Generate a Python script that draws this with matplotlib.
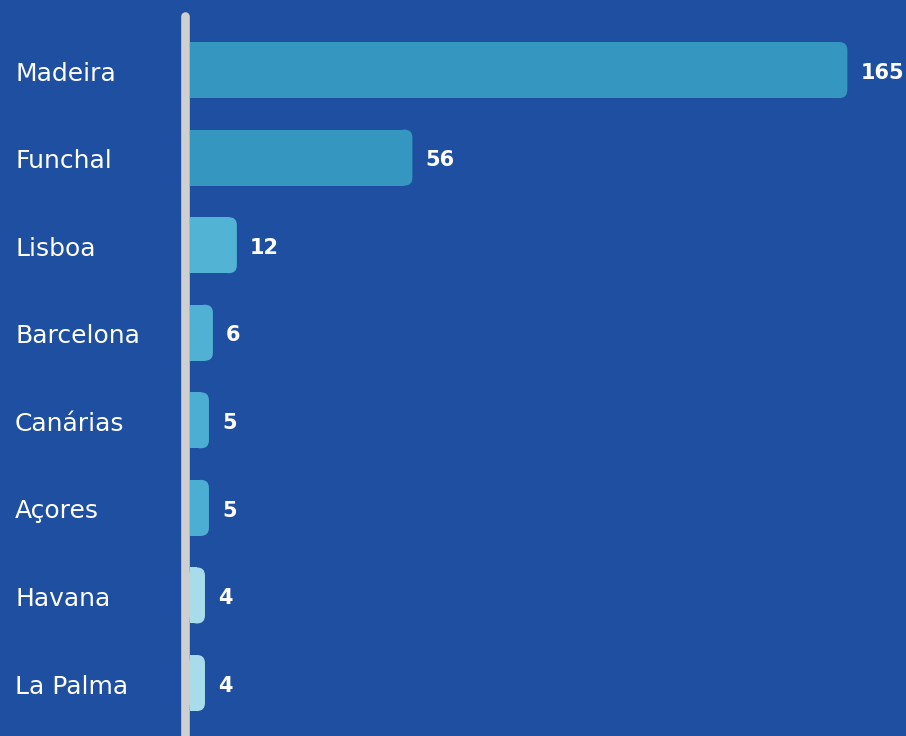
import matplotlib.pyplot as plt
from matplotlib.patches import Rectangle, FancyBboxPatch
import matplotlib.transforms as mtransforms

# data
places = ['Madeira', 'Funchal', 'Lisboa', 'Barcelona', 'Canárias', 'Açores', 'Havana', 'La Palma']
counts = [165, 56, 12, 6, 5, 5, 4, 4]
colors = ['#3596c0', '#3596c0', '#53b3d5', '#50b1d4', '#4caed2', '#4caed2', '#a9dcea', '#a9dcea']

bg = '#1f4fa0'
plt.rcParams['font.family'] = ['DejaVu Sans']

fig = plt.figure(figsize=(9.06, 7.36), dpi=100)
fig.patch.set_facecolor(bg)
ax = fig.add_axes([0, 0, 1, 1])
ax.set_facecolor(bg)

px = 3.99  # pixels per unit on x
ax.set_xlim(-189 / px, 717 / px)
ax.set_ylim(7.605, -0.8)
ax.axis('off')

h = 0.64
r = 2.0  # corner radius in x units (~8px)
aspect = (8 / 87.57) / r
for i, (v, c) in enumerate(zip(counts, colors)):
    # flat left part + rounded right end
    ax.add_patch(Rectangle((0.3, i - h / 2), v - r - 0.3, h, color=c, lw=0, zorder=2))
    ax.add_patch(FancyBboxPatch((v - 2 * r, i - h / 2), 2 * r, h,
                                boxstyle=f'round,pad=0,rounding_size={r}',
                                mutation_aspect=aspect, color=c, lw=0, zorder=2))
    ax.text(v + 13 / px, i + 0.03, str(v), color='white', fontsize=15, fontweight='bold',
            va='center', ha='left', zorder=3)

# category labels on the left
trans = mtransforms.blended_transform_factory(ax.transAxes, ax.transData)
for i, p in enumerate(places):
    ax.text(15 / 906, i + 0.04, p, transform=trans, color='white', fontsize=18,
            va='center', ha='left')

# vertical axis line
ax.plot([-4.5 / px, -4.5 / px], [-0.62, 8], color='#cfcfcf', lw=6.2,
        solid_capstyle='round', zorder=4)

fig.savefig('out.png', dpi=100, facecolor=bg)
